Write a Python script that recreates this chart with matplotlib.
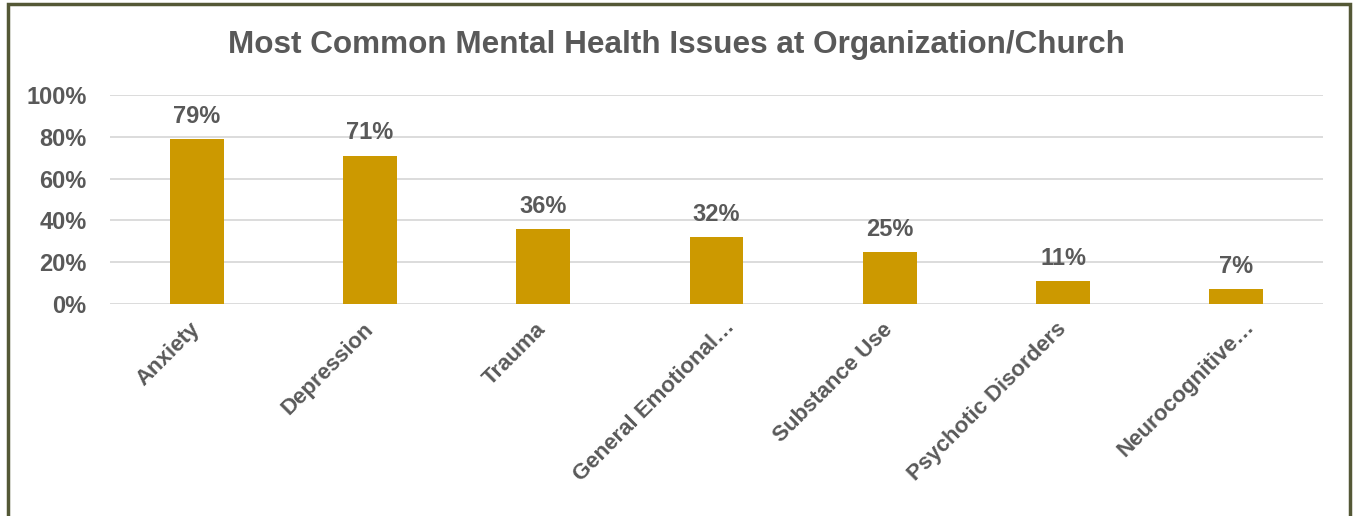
import matplotlib.pyplot as plt
from matplotlib.patches import Rectangle
from matplotlib.ticker import PercentFormatter
from matplotlib.transforms import ScaledTranslation

plt.rcParams['font.family'] = ['Liberation Sans', 'DejaVu Sans']

categories = ['Anxiety', 'Depression', 'Trauma', 'General Emotional…',
              'Substance Use', 'Psychotic Disorders', 'Neurocognitive…']
values = [79, 71, 36, 32, 25, 11, 7]
ticks = [0, 20, 40, 60, 80, 100]

txt = '#595959'
gold = '#CC9900'

fig = plt.figure(figsize=(13.53, 5.16), dpi=100)
ax = fig.add_axes([110/1353, 1-304/516, 1213/1353, 209/516])

x = range(len(categories))
bars = ax.bar(x, values, width=0.31, color=gold, zorder=3)
ax.bar_label(bars, labels=[f'{v}%' for v in values], padding=8,
             fontsize=17, fontweight='bold', color=txt)

ax.set_xlim(-0.5, len(categories) - 0.5)
ax.set_ylim(0, 100)
ax.set_yticks(ticks)
ax.yaxis.set_major_formatter(PercentFormatter(decimals=0))
ax.grid(axis='y', color='#d9d9d9', linewidth=1.3, zorder=0)
for s in ax.spines.values():
    s.set_visible(False)
ax.tick_params(axis='y', length=0, labelsize=17, labelcolor=txt, pad=17)
for lab in ax.get_yticklabels():
    lab.set_fontweight('bold')
ax.set_xticks(list(x))
ax.set_xticklabels(categories, rotation=45, ha='right', va='center',
                   rotation_mode='anchor', fontweight='bold')
ax.tick_params(axis='x', length=0, labelsize=16, labelcolor=txt, pad=16)

# truncated labels sit a little further along in the original
shift = ScaledTranslation(11/72, 2/72, fig.dpi_scale_trans)
for lab in ax.get_xticklabels():
    if lab.get_text().endswith('…'):
        lab.set_transform(lab.get_transform() + shift)

fig.text(0.5, 1-45/516, 'Most Common Mental Health Issues at Organization/Church',
         ha='center', va='center', fontsize=22.7, fontweight='bold', color=txt)

# outer border (bottom edge is cut off)
fig.patches.append(Rectangle((8/1353, -0.05), 1342/1353, 1.05 - 4/516,
                             transform=fig.transFigure, fill=False,
                             edgecolor='#545836', linewidth=2.5))

fig.savefig('out.png', dpi=100, facecolor='white')
